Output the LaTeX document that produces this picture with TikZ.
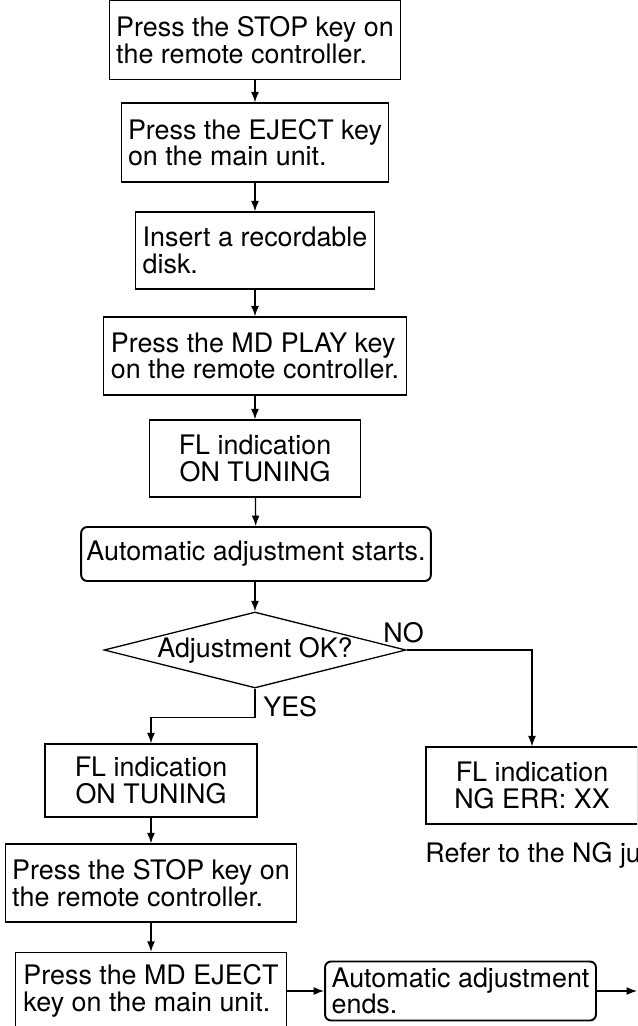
\documentclass[tikz,border=0pt]{standalone}
\usepackage{fontspec}
\setmainfont{TeX Gyre Heros}
\usetikzlibrary{shapes.geometric,arrows.meta}

\begin{document}
\begin{tikzpicture}[x=0.02cm, y=-0.02cm,
    stepbox/.style={draw, rectangle, line width=0.75pt, inner sep=3pt, align=left, font=\fontsize{15.3}{15.1}\selectfont},
    flbox/.style={stepbox, align=center},
    endbox/.style={stepbox, rounded corners=0.12cm, line width=1.1pt},
    test/.style={draw, diamond, aspect=3.97, inner sep=0pt, line width=0.75pt, font=\fontsize{15.3}{15.1}\selectfont},
    lbl/.style={inner sep=0pt, font=\fontsize{15.3}{15.1}\selectfont},
    flow/.style={line width=0.75pt, -{Latex[length=0.21cm,width=0.16cm]}}]
        \useasboundingbox (0,0) rectangle (637,1026);
        \clip (0,0) rectangle (637,1026);

        \node [stepbox, minimum width=5.82cm, minimum height=1.58cm] (S1) at (255,40) {Press the STOP key on\\the remote controller.};
        \node [stepbox, minimum width=5.34cm, minimum height=1.58cm] (S2) at (255,142.5) {Press the EJECT key\\on the main unit.};
        \node [stepbox, minimum width=4.78cm, minimum height=1.54cm] (S3) at (255,250.5) {Insert a recordable\\disk.};
        \node [stepbox, minimum width=6.06cm, minimum height=1.56cm] (S4) at (255,356) {Press the MD PLAY key\\on the remote controller.};
        \node [flbox, minimum width=4.22cm, minimum height=1.54cm] (S5) at (255,458.5) {FL indication\\ON TUNING};
        \node [endbox, minimum width=6.98cm, minimum height=1.08cm] (S6) at (256,554) {Automatic adjustment starts.};
        \node [test, minimum width=6.04cm, minimum height=1.52cm] (Q) at (255,650) {Adjustment OK?};

        \node [flbox, minimum width=4.24cm, minimum height=1.46cm] (Y1) at (151,780.5) {FL indication\\ON TUNING};
        \node [stepbox, minimum width=5.82cm, minimum height=1.56cm] (Y2) at (151,883) {Press the STOP key on\\the remote controller.};
        \node [stepbox, minimum width=5.42cm, minimum height=1.54cm] (Y3) at (151,991) {Press the MD EJECT\\key on the main unit.};
        \node [endbox, minimum width=5.42cm, minimum height=1.18cm] (E) at (460.5,991) {Automatic adjustment\\ends.};
        \coordinate (X) at (637,991);

        \node [flbox, minimum width=4.24cm, minimum height=1.54cm] (N1) at (532,785.5) {FL indication\\NG ERR: XX};
        \node [lbl, anchor=base west] (R) at (425,862) {Refer to the NG ju};

        \node [lbl, anchor=base west] (yes) at (263,716) {YES};
        \node [lbl, anchor=base west] (no) at (383,642) {NO};

        \draw [flow] (S1) -- (S2); \draw [flow] (S2) -- (S3); \draw [flow] (S3) -- (S4);
        \draw [flow] (S4) -- (S5); \draw [flow] (S5) -- (S6); \draw [flow] (S6.south -| Q.north) -- (Q);
        \draw [flow] (Q.south) -- ++(0,29) -| (Y1.north);
        \draw [flow] (Q.east) -| (N1.north);
        \draw [flow] (Y1) -- (Y2); \draw [flow] (Y2) -- (Y3);
        \draw [flow] (Y3) -- (E); \draw [flow] (E) -- (X);
    \end{tikzpicture}
\end{document}
